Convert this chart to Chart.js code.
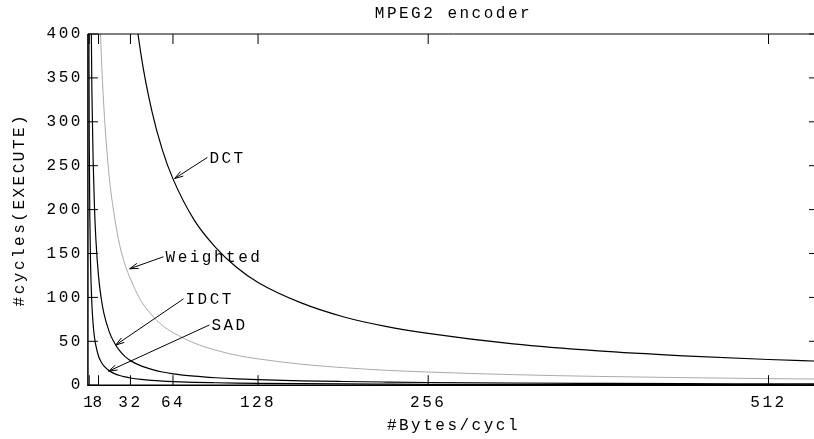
<!DOCTYPE html>
<html>
<head>
<meta charset="utf-8">
<script src="https://cdn.jsdelivr.net/npm/chart.js@4.4.1/dist/chart.umd.min.js"></script>
<style>
  html, body { margin: 0; padding: 0; background: #fff; overflow: hidden; }
  canvas { display: block; }
</style>
</head>
<body>
<canvas id="chart-container" width="822" height="439"></canvas>
<script>
// bytes per cycle (x) and cycles for each kernel
const bytesPerCycle = [0.5, 1, 1.5, 2, 3, 4, 5, 6, 8, 10, 12, 16, 20, 24, 28, 32, 40, 48, 56, 64, 80, 96, 112, 128, 160, 192, 224, 256, 320, 384, 448, 512, 550];
const dctCycles = [null, null, null, null, null, null, null, null, null, null, null, null, null, null, 536, 470, 376, 313, 268, 235, 188, 157, 134, 117, 94, 78, 67, 59, 47, 39, 33.5, 29.3, 27.3];
const weightedCycles = [null, null, null, null, null, null, null, 633, 475, 380, 317, 238, 192, 159, 137, 121, 96, 80, 68, 60, 48, 40, 34, 30, 24, 20, 17, 15, 12, 10, 8.6, 7.5, 7];
const idctCycles = [2000, 1000, 670, 500, 335, 252, 200, 166, 124, 99, 82, 61, 48, 39, 32.5, 28, 22, 18, 15, 13, 10.3, 8.5, 7.2, 6.3, 5, 4.2, 3.6, 3.1, 2.5, 2.1, 1.8, 1.6, 1.5];
const sadCycles = [540, 280, 185, 138, 92, 68, 54, 45, 33, 26.5, 22, 16.5, 13.2, 11, 9.4, 8.2, 6.6, 5.5, 4.7, 4.1, 3.3, 2.8, 2.4, 2.1, 1.7, 1.4, 1.2, 1.05, 0.85, 0.7, 0.6, 0.55, 0.5];

const xTicks = [1, 8, 32, 64, 128, 256, 512];

// arrow labels: text starts at (labelX, labelY), arrow points to (arrowX, arrowY)
const curveLabels = ["DCT", "Weighted", "IDCT", "SAD"];
const labelX = [89.9, 56.9, 71.9, 91.4];
const labelY = [259.4, 146.3, 98.3, 68.6];
const arrowX = [65.2, 31.4, 20.9, 15.6];
const arrowY = [235.4, 132.6, 45.7, 16];

const FONT = { family: '"Liberation Mono", "Courier New", monospace', size: 16 };
const LETTER_SPACING = "2.5px";
const TICK = 10;

const toPoints = (vals) => bytesPerCycle.map((x, i) => ({ x: x, y: vals[i] }));

const gnuplotFrame = {
  id: "gnuplotFrame",
  beforeUpdate(chart) {
    chart.ctx.letterSpacing = LETTER_SPACING;
  },
  beforeDraw(chart) {
    chart.ctx.letterSpacing = LETTER_SPACING;
  },
  afterDatasetsDraw(chart) {
    const { ctx, chartArea: a, scales } = chart;
    const xs = scales.x;
    const ys = scales.y;
    ctx.save();
    ctx.strokeStyle = "#000";

    // frame
    ctx.lineWidth = 1.5;
    ctx.beginPath();
    ctx.moveTo(a.right, a.bottom);
    ctx.lineTo(a.left, a.bottom);
    ctx.lineTo(a.left, a.top);
    ctx.stroke();
    ctx.lineWidth = 1;
    ctx.beginPath();
    ctx.moveTo(a.left, a.top);
    ctx.lineTo(a.right, a.top);
    ctx.lineTo(a.right, a.bottom);
    ctx.stroke();

    // inward ticks, mirrored
    ctx.beginPath();
    xTicks.forEach((v) => {
      const px = xs.getPixelForValue(v);
      ctx.moveTo(px, a.bottom);
      ctx.lineTo(px, a.bottom - TICK);
      ctx.moveTo(px, a.top);
      ctx.lineTo(px, a.top + TICK);
    });
    ys.ticks.forEach((t) => {
      const py = ys.getPixelForValue(t.value);
      ctx.moveTo(a.left, py);
      ctx.lineTo(a.left + TICK, py);
      ctx.moveTo(a.right, py);
      ctx.lineTo(a.right - TICK, py);
    });
    ctx.stroke();

    // labels with arrows
    ctx.font = FONT.size + "px " + FONT.family;
    ctx.fillStyle = "#000";
    ctx.textAlign = "left";
    ctx.textBaseline = "middle";
    for (let i = 0; i < curveLabels.length; i++) {
      const sx = xs.getPixelForValue(labelX[i]);
      const sy = ys.getPixelForValue(labelY[i]);
      const tx = xs.getPixelForValue(arrowX[i]);
      const ty = ys.getPixelForValue(arrowY[i]);
      const ang = Math.atan2(sy - ty, sx - tx);
      ctx.beginPath();
      ctx.moveTo(sx, sy);
      ctx.lineTo(tx, ty);
      ctx.moveTo(tx + 9 * Math.cos(ang + 0.3), ty + 9 * Math.sin(ang + 0.3));
      ctx.lineTo(tx, ty);
      ctx.lineTo(tx + 9 * Math.cos(ang - 0.3), ty + 9 * Math.sin(ang - 0.3));
      ctx.stroke();
      ctx.fillText(curveLabels[i], sx + 2, sy + 1);
    }
    ctx.restore();
  },
};

const lineStyle = (color, width) => ({
  borderColor: color,
  borderWidth: width,
  pointRadius: 0,
  fill: false,
  cubicInterpolationMode: "monotone",
});

new Chart(document.getElementById("chart-container"), {
  type: "line",
  data: {
    datasets: [
      { label: "Weighted", data: toPoints(weightedCycles), ...lineStyle("#aaaaaa", 1) },
      { label: "DCT", data: toPoints(dctCycles), ...lineStyle("#000000", 1.2) },
      { label: "IDCT", data: toPoints(idctCycles), ...lineStyle("#000000", 1.2) },
      { label: "SAD", data: toPoints(sadCycles), ...lineStyle("#000000", 1.2) },
    ],
  },
  options: {
    responsive: false,
    animation: false,
    devicePixelRatio: 1,
    layout: { padding: { top: 0, right: 3, bottom: 0, left: 0 } },
    plugins: {
      legend: { display: false },
      tooltip: { enabled: false },
      title: {
        display: true,
        text: "MPEG2 encoder",
        color: "#000",
        font: { ...FONT, weight: "normal" },
        fullSize: false,
        padding: { top: 4, bottom: 10.8 },
      },
    },
    scales: {
      x: {
        type: "linear",
        min: 0,
        max: 550,
        afterBuildTicks: (scale) => {
          scale.ticks = xTicks.map((v) => ({ value: v }));
        },
        ticks: {
          autoSkip: false,
          maxRotation: 0,
          minRotation: 0,
          padding: 8,
          color: "#000",
          font: FONT,
          callback: (v) => String(v),
        },
        grid: { display: false, drawTicks: false },
        border: { display: false },
        title: {
          display: true,
          text: "#Bytes/cycl",
          color: "#000",
          font: FONT,
          padding: { top: -4.6, bottom: 4 },
        },
      },
      y: {
        min: 0,
        max: 400,
        ticks: { stepSize: 50, padding: 5, color: "#000", font: FONT },
        grid: { display: false, drawTicks: false },
        border: { display: false },
        title: {
          display: true,
          text: "#cycles(EXECUTE)",
          color: "#000",
          font: FONT,
          padding: { top: 10.4, bottom: 12 },
        },
      },
    },
  },
  plugins: [gnuplotFrame],
});
</script>
</body>
</html>
